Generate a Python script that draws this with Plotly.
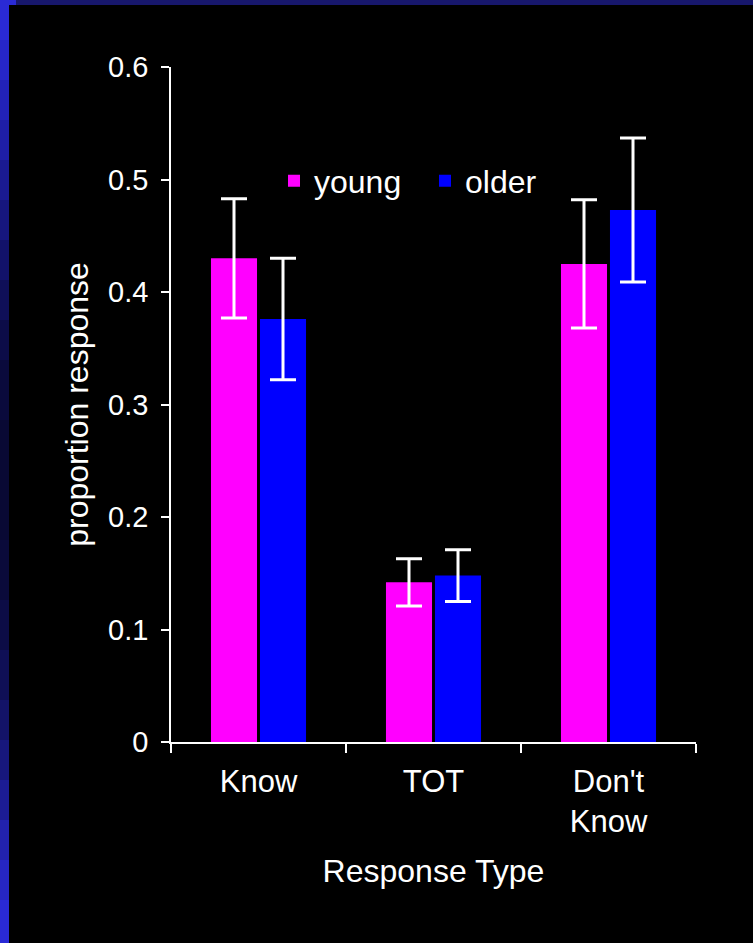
import plotly.graph_objects as go

# Response categories and group means with their error margins
categories = ["Know", "TOT", "Don't<br>Know"]
young = [0.430, 0.142, 0.425]
young_err = [0.053, 0.021, 0.057]
older = [0.376, 0.148, 0.473]
older_err = [0.054, 0.023, 0.064]
y_ticks = [0, 0.1, 0.2, 0.3, 0.4, 0.5, 0.6]
y_tick_text = ["0", "0.1", "0.2", "0.3", "0.4", "0.5", "0.6"]

FONT = "Liberation Sans, Arial, sans-serif"
W, H = 753, 943
ML, MR, MT, MB = 171, 57, 67, 201
PW, PH = W - ML - MR, H - MT - MB


def px_x(p):
    return (p - ML) / PW


def px_y(p):
    return (H - MB - p) / PH


err_style = dict(type="data", color="white", thickness=3, width=13)

fig = go.Figure()
fig.add_trace(go.Bar(
    name="young", x=categories, y=young, marker_color="#ff00ff",
    marker_line_width=0,
    error_y=dict(array=young_err, **err_style),
))
fig.add_trace(go.Bar(
    name="older", x=categories, y=older, marker_color="#0000ff",
    marker_line_width=0,
    error_y=dict(array=older_err, **err_style),
))

# Slide frame: blue bars along the left and top edges
shapes = []
strip_colors = [
    (0, 40, "#2a2ad6"), (40, 80, "#2626c8"), (80, 120, "#2222b8"),
    (120, 160, "#1e1ea6"), (160, 200, "#1a1a92"), (200, 240, "#16167e"),
    (240, 280, "#12126a"), (280, 320, "#0f0f58"), (320, 360, "#0c0c48"),
    (360, 420, "#0a0a3c"), (420, 480, "#090934"), (480, 540, "#090934"),
    (540, 600, "#0a0a3a"), (600, 650, "#0c0c46"), (650, 700, "#0f0f56"),
    (700, 740, "#131368"), (740, 780, "#17177c"), (780, 820, "#1c1c94"),
    (820, 860, "#2222ae"), (860, 900, "#2626c4"), (900, 943, "#2a2ad6"),
]
for y0, y1, c in strip_colors:
    shapes.append(dict(
        type="rect", xref="paper", yref="paper", layer="below",
        x0=px_x(0), x1=px_x(9), y0=px_y(y1), y1=px_y(y0),
        fillcolor=c, line_width=0,
    ))
shapes.append(dict(
    type="rect", xref="paper", yref="paper", layer="below",
    x0=px_x(16), x1=px_x(W), y0=px_y(5), y1=px_y(0),
    fillcolor="#17176c", line_width=0,
))
shapes.append(dict(
    type="rect", xref="paper", yref="paper", layer="below",
    x0=px_x(0), x1=px_x(16), y0=px_y(5), y1=px_y(0),
    fillcolor="#2a2ad6", line_width=0,
))

fig.update_layout(
    width=W, height=H,
    margin=dict(l=ML, r=MR, t=MT, b=MB, autoexpand=False),
    paper_bgcolor="black", plot_bgcolor="black",
    font=dict(family=FONT, color="white", size=31),
    barmode="group", bargap=0.44, bargroupgap=0.06,
    showlegend=True,
    legend=dict(
        orientation="h", x=px_x(274), y=px_y(181),
        xanchor="left", yanchor="middle",
        bgcolor="rgba(0,0,0,0)", font=dict(size=32),
        itemwidth=30, tracegroupgap=0,
        entrywidth=106, entrywidthmode="pixels",
    ),
    shapes=shapes,
    xaxis=dict(
        showline=True, linecolor="white", linewidth=1.5,
        ticks="outside", tickson="boundaries", ticklen=9,
        tickcolor="white", tickwidth=1.5,
        showgrid=False, zeroline=False,
        tickfont=dict(size=31), ticklabelstandoff=11,
        title=dict(text="Response Type", font=dict(size=32), standoff=21),
        automargin=False,
    ),
    yaxis=dict(
        range=[0, 0.6], tickvals=y_ticks, ticktext=y_tick_text,
        showline=True, linecolor="white", linewidth=1.5,
        ticks="outside", ticklen=8, tickcolor="white", tickwidth=1.5,
        showgrid=False, zeroline=False,
        tickfont=dict(size=29), ticklabelstandoff=7,
        title=dict(text="proportion response", font=dict(size=32), standoff=10),
        automargin=False,
    ),
)

fig.write_html("out.html")
